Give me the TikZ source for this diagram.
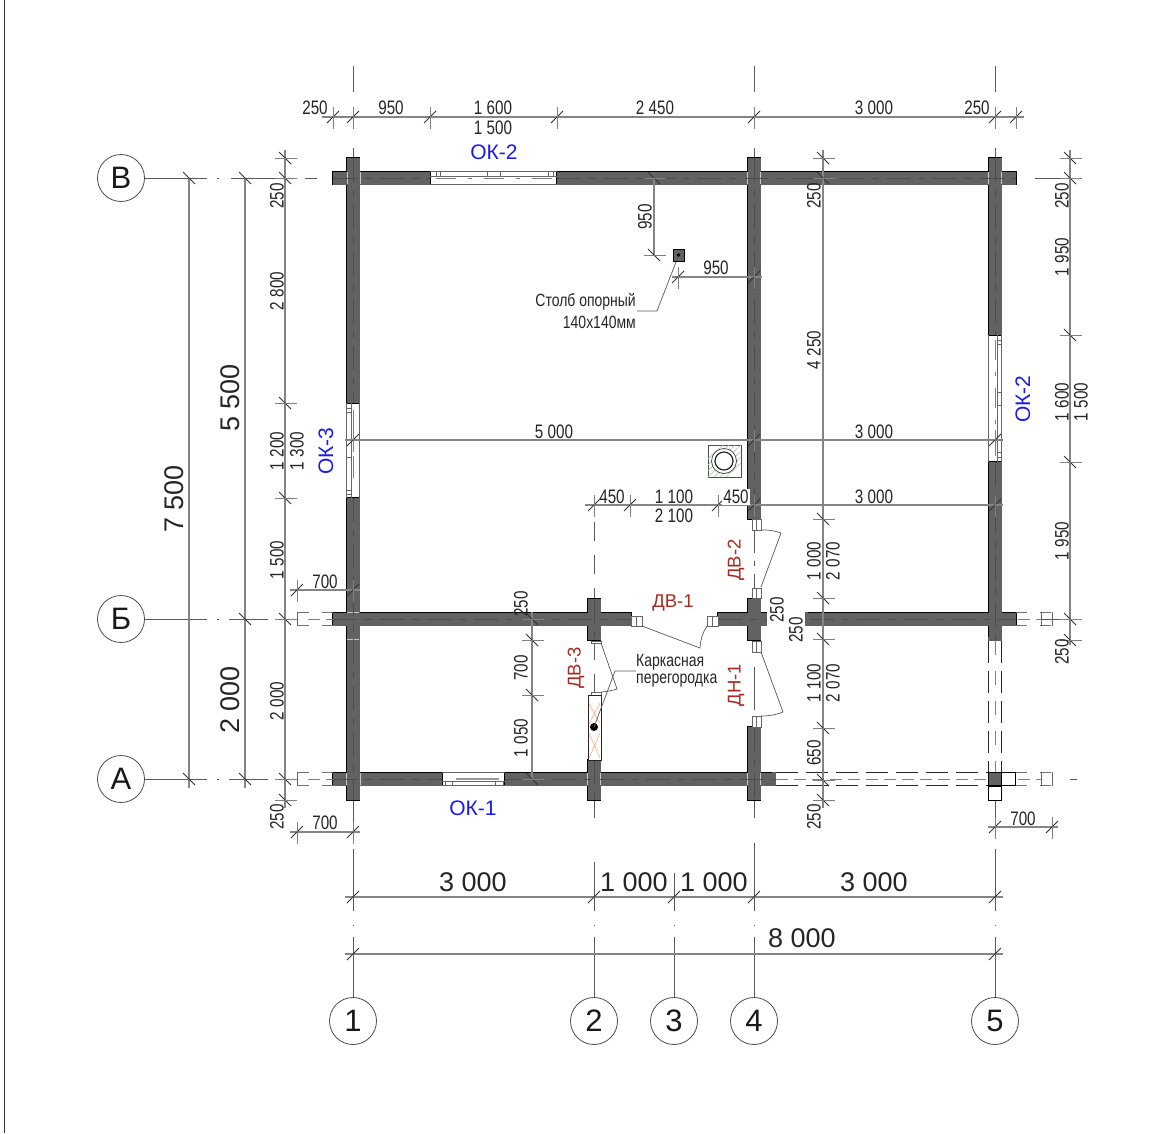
\documentclass[tikz,border=0pt]{standalone}
\usepackage{fontspec}
\setmainfont{Liberation Sans}
\newfontfamily\dimf[FakeStretch=0.78]{Liberation Sans}
\newfontfamily\notef[FakeStretch=0.79]{Liberation Sans}
\definecolor{wallc}{HTML}{626262}
\definecolor{dimc}{HTML}{858585}
\definecolor{okc}{HTML}{1A1AF0}
\definecolor{dvc}{HTML}{A82A22}
\tikzset{
 dimline/.style={draw=dimc,line width=1.1pt},
 tick/.style={draw=black!80,line width=0.9pt},
 extl/.style={draw=black!50,line width=0.7pt},
 axisl/.style={draw=black!65,line width=0.8pt},
 clin/.style={draw=black!70,line width=0.7pt,dash pattern=on 24pt off 8pt on 7pt off 8pt},
 wallfill/.style={fill=wallc},
 thinb/.style={draw=black!60,line width=0.7pt},
 leaf/.style={draw=black!65,line width=0.7pt},
 dashb/.style={draw=black!85,line width=1pt,dash pattern=on 22pt off 8pt},
 dashg/.style={draw=black!50,line width=0.9pt,dash pattern=on 12pt off 6pt},
 dimt/.style={font=\dimf\fontsize{19.5}{21}\selectfont,text=black!85,inner sep=0pt},
 notet/.style={font=\notef\fontsize{17.7}{20}\selectfont,text=black!85,inner sep=0pt},
 bigt/.style={font=\fontsize{27}{30}\selectfont,text=black!85,inner sep=0pt},
 okt/.style={font=\fontsize{21}{24}\selectfont,text=okc,inner sep=0pt},
 dvt/.style={font=\fontsize{18.5}{22}\selectfont,text=dvc,inner sep=0pt},
 bubble/.style={circle,draw=black!70,line width=0.8pt,minimum size=47pt,inner sep=0pt,fill=white,font=\fontsize{31}{34}\selectfont,text=black!90},
}
\newcommand\htk[2]{\draw[tick] (#1-6,#2+6)--(#1+6,#2-6); \draw[extl] (#1,#2-10)--(#1,#2+12);}
\newcommand\vtk[2]{\draw[tick] (#1-6,#2-6)--(#1+6,#2+6); \draw[extl] (#1-10,#2)--(#1+12,#2);}
\newcommand\tl[3]{\node[dimt] at (#1,#2) {#3};}
\newcommand\tv[3]{\node[dimt,rotate=90] at (#1,#2) {#3};}
\newcommand\stub[4]{\draw[thinb,fill=white] (#1,#2) rectangle (#3,#4);}
\begin{document}
\begin{tikzpicture}[x=1pt,y=-1pt]
\useasboundingbox (0,0) rectangle (1170,1133);
\fill[white] (0,0) rectangle (1170,1133);
\draw[black!80,line width=1pt] (4,0)--(4,1133);

% grid bubbles
\node[bubble] (a1) at (353,1021) {1};
\node[bubble] (a2) at (594,1021) {2};
\node[bubble] (a3) at (674,1021) {3};
\node[bubble] (a4) at (754,1021) {4};
\node[bubble] (a5) at (995,1021) {5};
\node[bubble] (bV) at (121,178) {В};
\node[bubble] (bB) at (121,619) {Б};
\node[bubble] (bA) at (121,779) {А};

% grid axes outside the walls
\foreach \x in {353,754,995}{
 \draw[axisl] (\x,66)--(\x,92);
 \draw[axisl] (\x,148)--(\x,165);
}
\draw[axisl] (353,849)--(353,911);
\draw[axisl] (594,862)--(594,911);
\draw[axisl] (674,873)--(674,911);
\draw[axisl] (754,843)--(754,911);
\draw[axisl] (995,849)--(995,911);
\foreach \x/\n in {353/a1,594/a2,674/a3,754/a4,995/a5}{
 \draw[axisl] (\n.north)--(\x,937);
 \draw[axisl] (\x,924.5)--(\x,926);
}
\draw[axisl] (353,800)--(353,836);
\draw[axisl] (594,800)--(594,818);
\draw[axisl] (754,800)--(754,818);
\draw[axisl] (995,800)--(995,838);
\draw[axisl,dash pattern=on 19pt off 14pt] (594,522)--(594,599);
\draw[axisl,dash pattern=on 20pt off 14pt] (594,640)--(594,694);
\draw[axisl,dash pattern=on 22pt off 8pt on 5pt off 8pt] (754,531)--(754,588);
\draw[axisl] (754,667)--(754,710);
\foreach \n/\y in {bV/178,bB/619,bA/779}{
 \draw[axisl] (\n.east)--(207,\y);
 \draw[axisl] (217,\y)--(219,\y);
}
\draw[axisl] (231,178)--(296,178);
\draw[axisl] (305,178)--(317,178);
\foreach \y in {619,779}{
 \draw[axisl] (229,\y)--(268,\y);
 \draw[axisl] (276,\y)--(296,\y);
}
\draw[axisl] (1035,178)--(1070,178);
\draw[axisl] (1040,619)--(1076,619);
\draw[axisl] (1070,779)--(1077,779);

% walls: outline pass, then fill pass
\def\walllist{333/171.5/430/184.5,557/171.5/1016/184.5,333/612.5/631/625.5,718/612.5/767/625.5,805/612.5/1016/625.5,333/772.5/442/785.5,505/772.5/775/785.5,346.5/158/359.5/403,346.5/498/359.5/800,587.5/599/600.5/640,587.5/760/600.5/800,747.5/158/760.5/519,747.5/599/760.5/640,747.5/727/760.5/800,988.5/158/1001.5/335,988.5/462/1001.5/640}
\foreach \a/\b/\c/\d in \walllist {\draw[black,line width=1.5pt] (\a,\b) rectangle (\c,\d);}
\foreach \a/\b/\c/\d in \walllist {\fill[wallfill] (\a,\b) rectangle (\c,\d);}
% open wall ends without black edge
\fill[wallfill] (772,771.8) rectangle (776,786.2);
\fill[wallfill] (987.8,637) rectangle (1002.2,641);
\fill[wallfill] (804,611.8) rectangle (808,626.2);
% wall junction seams
\foreach \a/\b/\c/\d in {347/639/359/639,347/612/359/612,347/172/347/184,360/172/360/184,747/172/747/184,760/172/760/184,988/172/988/184,1001/172/1001/184,346/773/346/785,360/773/360/785,747/773/747/785,760/773/760/785,587/773/587/785,600/773/600/785}
 {\draw[white!65!wallc,line width=0.6pt] (\a,\b)--(\c,\d);}

% centre lines inside walls
\draw[clin] (333,178)--(430,178);
\draw[clin] (557,178)--(1016,178);
\draw[clin] (333,619)--(631,619);
\draw[clin] (718,619)--(767,619);
\draw[clin] (810,619)--(1016,619);
\draw[clin] (333,779)--(442,779);
\draw[clin] (505,779)--(775,779);
\draw[clin] (353,158)--(353,403);
\draw[clin] (353,498)--(353,800);
\draw[clin] (594,599)--(594,640);
\draw[clin] (594,760)--(594,800);
\draw[clin] (754,158)--(754,519);
\draw[clin] (754,727)--(754,800);
\draw[clin] (995,158)--(995,335);
\draw[clin] (995,462)--(995,640);

% windows
% OK-2 top
\draw[thinb] (430,171.5)--(557,171.5) (430,176.5)--(557,176.5) (430,184.5)--(557,184.5);
\draw[thinb] (436,172)--(436,176) (440,172)--(440,176) (487,172)--(487,176) (500,172)--(500,176) (548,172)--(548,176) (553,172)--(553,176);
\draw[dashg,dash pattern=on 20pt off 12pt on 4pt off 12pt] (436,178.5)--(553,178.5);
% OK-2 right
\draw[thinb] (988.5,335)--(988.5,462) (1001.5,335)--(1001.5,462) (997,335)--(997,462);
\draw[thinb] (997,340)--(1001,340) (997,344)--(1001,344) (997,392)--(1001,392) (997,405)--(1001,405) (997,452)--(1001,452) (997,457)--(1001,457);
\draw[dashg,dash pattern=on 20pt off 12pt on 4pt off 12pt] (995,340)--(995,457);
% OK-3 left
\draw[thinb] (346.5,403)--(346.5,498) (359.5,403)--(359.5,498) (351.5,403)--(351.5,498);
\draw[thinb] (346.5,408)--(351,408) (346.5,412)--(351,412) (346.5,457)--(351,457) (346.5,490)--(351,490) (346.5,494)--(351,494);
\draw[dashg,dash pattern=on 22pt off 24pt] (353.5,410)--(353.5,490);
% OK-1 bottom
\draw[thinb] (442,772.5)--(505,772.5) (442,781)--(505,781) (442,785.5)--(505,785.5);
\draw[thinb] (445,781)--(445,785) (452,781)--(452,785) (495,781)--(495,785) (503,781)--(503,785);
\draw[black!40,line width=1.6pt] (456,779)--(499,779);

% door stubs
\stub{631}{616}{642}{626}\draw[thinb] (636,616)--(636,626);
\stub{707}{616}{718}{626}\draw[thinb] (712,616)--(712,626);
\stub{752}{519}{761}{530}\draw[thinb] (756,519)--(756,530);
\stub{752}{588}{761}{598}\draw[thinb] (756,588)--(756,598);
\stub{752}{641}{761}{652}\draw[thinb] (756,641)--(756,652);
\stub{752}{716}{761}{727}\draw[thinb] (756,716)--(756,727);
\stub{591}{641}{601}{643}
\stub{591}{692}{601}{695}
% door leaves
\draw[leaf] (642,626)--(700,648) to[bend left=14] (707,626);
\draw[leaf] (761,530) to[bend left=10] (781,533)--(761,587);
\draw[leaf] (761,652)--(783,712) to[bend left=10] (761,716);
\draw[leaf] (601,643)--(617,689) to[bend left=6] (601,692);

% partition
\draw[black!85,line width=1pt,fill=white] (588,695) rectangle (601,760);
\draw[orange!70!red!50,line width=0.6pt] (589,703)--(600,724) (600,703)--(589,724) (589,733)--(600,758) (600,733)--(589,758);
\fill[black] (594,727) circle (4);
\draw[leaf] (594,727)--(615,671)--(636,671);

% extended (dashed) logs
\draw[dashb,draw=black!55,dash pattern=on 12pt off 13pt] (297,612.5)--(333,612.5);
\draw[dashb,draw=black!55,dash pattern=on 12pt off 13pt] (297,625.5)--(333,625.5);
\draw[black!60,line width=0.8pt] (297,612)--(297,626);
\draw[dashb,draw=black!55,dash pattern=on 12pt off 13pt] (297,772.5)--(333,772.5);
\draw[dashb,draw=black!55,dash pattern=on 12pt off 13pt] (297,785.5)--(333,785.5);
\draw[black!60,line width=0.8pt] (297,772)--(297,786);
\draw[dashb,draw=black!55,dash pattern=on 11pt off 13pt] (1016,612.5)--(1052,612.5);
\draw[dashb,draw=black!55,dash pattern=on 11pt off 13pt] (1016,625.5)--(1052,625.5);
\draw[black!60,line width=0.8pt] (1052,612)--(1052,626) (1041,612)--(1041,626);
\draw[dashb,draw=black!55,dash pattern=on 11pt off 13pt] (1016,772.5)--(1052,772.5);
\draw[dashb,draw=black!55,dash pattern=on 11pt off 13pt] (1016,785.5)--(1052,785.5);
\draw[black!60,line width=0.8pt] (1052,772)--(1052,786) (1041,772)--(1041,786);
\draw[dashb] (776,772.5)--(988,772.5);
\draw[dashb] (776,785.5)--(988,785.5);
\draw[dashg] (776,779)--(988,779);
\draw[dashg] (1018,779)--(1041,779);
\draw[dashg] (1018,619)--(1041,619);
\draw[dashg] (308,619)--(333,619);
\draw[dashg] (308,779)--(333,779);
\draw[dashb] (988.5,641)--(988.5,772);
\draw[dashb] (1001.5,641)--(1001.5,772);
\draw[dashg,dash pattern=on 14pt off 16pt] (995,641)--(995,772);
% post at 5/A
\draw[black,line width=1pt] (988.5,786) rectangle (1001.5,800);
\draw[black,line width=1pt] (1001.5,772.5) rectangle (1015.5,785.5);
\draw[black,line width=1pt,fill=wallc] (988.5,772.5) rectangle (1001.5,785.5);

% support post and stove
\draw[black,line width=1pt,fill=wallc] (673,249.5) rectangle (684,261);
\fill[black] (678.5,255) circle (1.8);
\draw[leaf] (676,262)--(657,311)--(637,311);
\draw[black!70,line width=0.8pt] (708,445) rectangle (741,477);
\begin{scope}
\clip (708,445) rectangle (741,477);
\foreach \d in {0,6,12,18}{\draw[green!50!black!35,line width=0.6pt] (708+\d,477)--(741,445+\d) (708,477-\d)--(741-\d,445);}
\end{scope}
\draw[black!70,line width=0.8pt,fill=white] (724,461) circle (12.5);
\draw[black!85,line width=1.2pt,fill=white] (724,461) circle (9);

% top chain
\draw[dimline] (322,117)--(1024,117);
\foreach \x in {333,353,430,557,754,995,1016}{\htk{\x}{117}}
\tl{315}{108}{250}\tl{391}{108}{950}\tl{493}{108}{1 600}\tl{493}{128}{1 500}\tl{655}{108}{2 450}\tl{874}{108}{3 000}\tl{977}{108}{250}

% y=440
\draw[dimline] (345,440)--(1003,440);
\foreach \x in {353,754,995}{\htk{\x}{440}}
\tl{554}{432}{5 000}\tl{874}{432}{3 000}
% y=505
\draw[dimline] (585,505)--(1003,505);
\foreach \x in {594,630,718,754,995}{\htk{\x}{505}}
\tl{612}{497}{450}\tl{674}{497}{1 100}\tl{674}{516}{2 100}\tl{874}{497}{3 000}
\node[dimt,fill=white,inner xsep=1pt,inner ysep=1pt] at (736,497) {450};

% posts dims
\draw[dimline] (654,178)--(654,255);
\vtk{654}{178}\vtk{654}{255}
\tv{645}{217}{950}
\draw[dimline] (672,277)--(762,277);
\htk{678}{277}\htk{754}{277}
\tl{716}{268}{950}

% left chains
\draw[dimline] (189,178)--(189,788);
\draw[tick] (183,172)--(195,184) (183,773)--(195,785);
\draw[dimline] (245,178)--(245,788);
\draw[tick] (239,172)--(251,184) (239,613)--(251,625) (239,773)--(251,785);
\node[bigt,rotate=90] at (174,499) {7 500};
\node[bigt,rotate=90] at (230,398) {5 500};
\node[bigt,rotate=90] at (230,700) {2 000};
\draw[dimline] (285,150)--(285,808);
\foreach \y in {158,178,403,498,619,779,800}{\vtk{285}{\y}}
\tv{277}{196}{250}\tv{277}{291}{2 800}\tv{277}{451}{1 200}\tv{297}{451}{1 300}\tv{277}{560}{1 500}\tv{277}{701}{2 000}\tv{277}{817}{250}

% 700s
\draw[dimline] (290,590)--(360,590); \htk{297}{590}\htk{353}{590}
\tl{325}{582}{700}
\draw[dimline] (290,832)--(360,832); \htk{297}{832}\htk{353}{832}
\tl{325}{823}{700}
\draw[dimline] (988,827)--(1058,827); \htk{995}{827}\htk{1052}{827}
\tl{1023}{819}{700}

% chain x=532
\draw[dimline] (532,612)--(532,779);
\foreach \y in {619,640,695,779}{\vtk{532}{\y}}
\tv{521}{604}{250}\tv{521}{668}{700}\tv{521}{738}{1 050}

% chain x=823
\node[fill=white,minimum width=38pt,minimum height=14pt,inner sep=0pt] (gap) at (786,619) {};
\draw[dimline] (823,150)--(823,808);
\foreach \y in {158,178,519,598,639,728,780,800}{\vtk{823}{\y}}
\tv{814}{196}{250}\tv{814}{350}{4 250}\tv{814}{561}{1 000}\tv{833}{561}{2 070}\tv{814}{683}{1 100}\tv{833}{683}{2 070}\tv{814}{753}{650}\tv{814}{817}{250}
\tv{777}{610}{250}\tv{796}{630}{250}

% chain x=1070
\draw[dimline] (1070,150)--(1070,645);
\foreach \y in {158,178,335,462,619,640}{\vtk{1070}{\y}}
\tv{1062}{196}{250}\tv{1062}{257}{1 950}\tv{1062}{402}{1 600}\tv{1081}{402}{1 500}\tv{1062}{541}{1 950}\tv{1062}{652}{250}

% bottom chains
\draw[dimline] (345,897)--(1003,897);
\foreach \x in {353,594,674,754,995}{\draw[tick] (\x-6,903)--(\x+6,891);}
\node[bigt] at (473,882) {3 000};\node[bigt] at (634,882) {1 000};\node[bigt] at (714,882) {1 000};\node[bigt] at (874,882) {3 000};
\draw[dimline] (345,954)--(1003,954);
\foreach \x in {353,995}{\draw[tick] (\x-6,960)--(\x+6,948);}
\node[bigt] at (802,938) {8 000};

% labels
\node[okt] at (494,152) {ОК-2};
\node[okt] at (473,808) {ОК-1};
\node[okt,rotate=90] at (1023,399) {ОК-2};
\node[okt,rotate=90] at (326,451) {ОК-3};
\node[dvt] at (673,603) {ДВ-1};
\node[dvt,rotate=90] at (736,560) {ДВ-2};
\node[dvt,rotate=90] at (576,668) {ДВ-3};
\node[dvt,rotate=90] at (736,685) {ДН-1};
\node[notet,anchor=east] at (636,302) {Столб опорный};
\node[notet,anchor=east] at (636,322) {140х140мм};
\node[notet,anchor=west] at (636,662) {Каркасная};
\node[notet,anchor=west] at (636,681) {перегородка};
\end{tikzpicture}
\end{document}
